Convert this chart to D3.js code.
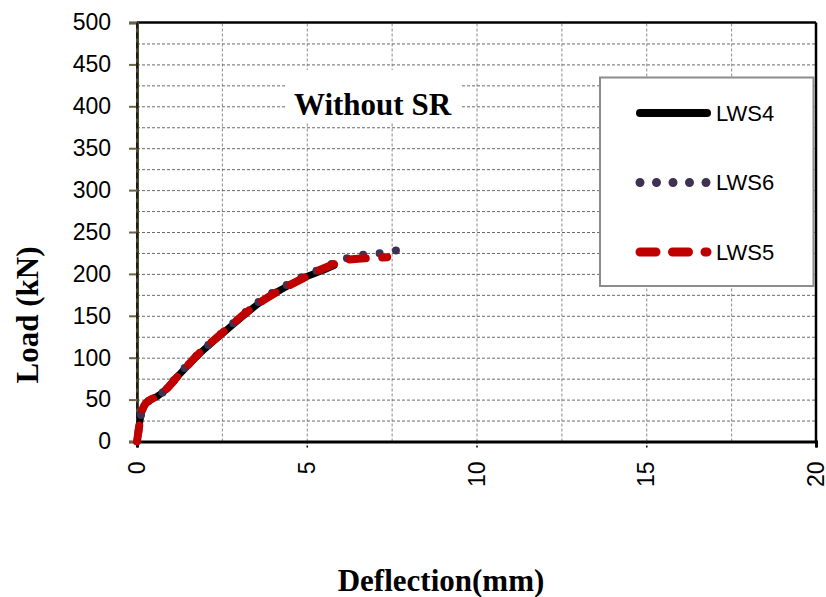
<!DOCTYPE html>
<html lang="en">
<head>
    <meta charset="UTF-8">
    <title>Load - Deflection, Without SR</title>
    <script src="https://d3js.org/d3.v7.min.js" charset="utf-8"></script>
    <style>
        body { margin: 0; background: white; }
        svg { display: block; background: white; }
    </style>
</head>
<body>
    <div id="chart"></div>
    <script>

    // series (deflection mm, load kN)
    var seriesNames = ['LWS4', 'LWS6', 'LWS5'];

    var lws4Defl = [0, 0.05, 0.1, 0.16, 0.25, 0.4, 0.6, 0.85, 1.25, 1.85, 2.55, 3.25, 3.7, 4.1, 4.9, 5.4, 5.8];
    var lws4Load = [0, 14, 28, 38, 45, 50, 54, 62, 80, 105, 130, 154, 168, 178, 195, 203, 210];

    var lws6Defl = [0, 0.05, 0.1, 0.16, 0.25, 0.4, 0.6, 0.85, 1.25, 1.85, 2.55, 3.25, 3.7, 4.1, 4.9, 5.35, 5.75, 6.2, 6.7, 7.2, 7.65];
    var lws6Load = [0, 14, 28, 38, 45, 50, 54, 62, 81, 106, 131, 156, 170, 180, 197, 205, 212, 219, 223, 225, 228];

    var lws5Defl = [0, 0.05, 0.1, 0.16, 0.25, 0.4, 0.6, 0.85, 1.25, 1.85, 2.55, 3.25, 3.7, 4.1, 4.9, 5.35, 5.7, 6.1, 6.5, 7.0, 7.37];
    var lws5Load = [0, 14, 28, 38, 45, 50, 54, 62, 80, 106, 131, 155, 168, 178, 195, 204, 210, 216, 218, 219, 220];

    var xTicks = [0, 5, 10, 15, 20];
    var yTicks = [0, 50, 100, 150, 200, 250, 300, 350, 400, 450, 500];

    var width = 826, height = 597;
    var plotLeft = 137, plotRight = 816, plotTop = 22.5, plotBottom = 441.5;

    var svg = d3.select('#chart').append('svg')
        .attr('width', width)
        .attr('height', height);

    var x = d3.scaleLinear().domain([0, 20]).range([plotLeft, plotRight]);
    var y = d3.scaleLinear().domain([0, 500]).range([plotBottom, plotTop]);

    //gridlines (dashed grey), every 2.5 mm and 25 kN
    svg.append('g')
        .attr('transform', 'translate(0,' + plotBottom + ')')
        .call(d3.axisBottom(x).tickValues(d3.range(2.5, 20, 2.5)).tickSize(-(plotBottom - plotTop)).tickFormat(''))
        .call(g => g.select('.domain').remove())
        .selectAll('line')
        .attr('stroke', '#8a8a8a')
        .attr('stroke-width', 1)
        .attr('stroke-dasharray', '3,2');

    svg.append('g')
        .attr('transform', 'translate(' + plotLeft + ',0)')
        .call(d3.axisLeft(y).tickValues(d3.range(25, 500, 25)).tickSize(-(plotRight - plotLeft)).tickFormat(''))
        .call(g => g.select('.domain').remove())
        .selectAll('line')
        .attr('stroke', '#6a6a6a')
        .attr('stroke-width', 1)
        .attr('stroke-dasharray', '3,2');

    // white box behind the title
    svg.append('rect')
        .attr('x', 285).attr('y', 70)
        .attr('width', 175).attr('height', 52)
        .attr('fill', 'white');

    svg.append('text')
        .attr('x', 372.5)
        .attr('y', 115)
        .attr('text-anchor', 'middle')
        .style('font-family', '"Liberation Serif", "Times New Roman", serif')
        .style('font-weight', 'bold')
        .style('font-size', '31px')
        .text('Without SR');

    // top and right frame
    svg.append('line')
        .attr('x1', plotLeft).attr('x2', plotRight).attr('y1', plotTop).attr('y2', plotTop)
        .attr('stroke', 'black').attr('stroke-width', 2.5);
    svg.append('line')
        .attr('x1', plotRight).attr('x2', plotRight).attr('y1', plotTop).attr('y2', plotBottom)
        .attr('stroke', 'black').attr('stroke-width', 2.5);

    // y axis
    var yAxis = svg.append('g')
        .attr('transform', 'translate(' + plotLeft + ',0)')
        .call(d3.axisLeft(y).tickValues(yTicks).tickSize(8).tickPadding(18));
    yAxis.select('.domain').attr('stroke', '#4d4631').attr('stroke-width', 3);
    yAxis.selectAll('.tick line').attr('stroke', '#6b6345').attr('stroke-width', 2);
    yAxis.selectAll('text')
        .style('font-family', '"Liberation Sans", Arial, sans-serif')
        .style('font-size', '23px')
        .attr('fill', 'black');
    svg.append('line')
        .attr('x1', plotLeft).attr('x2', plotLeft).attr('y1', plotTop).attr('y2', plotBottom)
        .attr('stroke', 'black').attr('stroke-width', 1.2)
        .attr('stroke-dasharray', '6,4');

    // x axis
    var xAxis = svg.append('g')
        .attr('transform', 'translate(0,' + plotBottom + ')')
        .call(d3.axisBottom(x).tickValues(xTicks).tickSize(6));
    xAxis.select('.domain').attr('stroke', 'black').attr('stroke-width', 3);
    xAxis.selectAll('.tick line').attr('stroke', 'black').attr('stroke-width', 1.5).attr('stroke-dasharray', '2,2');
    xAxis.selectAll('text')
        .attr('transform', 'rotate(-90)')
        .attr('x', -20)
        .attr('y', 0)
        .attr('dy', '0.33em')
        .attr('text-anchor', 'end')
        .style('font-family', '"Liberation Sans", Arial, sans-serif')
        .style('font-size', '23px')
        .attr('fill', 'black');

    // axis titles
    svg.append('text')
        .attr('x', 441)
        .attr('y', 591)
        .attr('text-anchor', 'middle')
        .style('font-family', '"Liberation Serif", "Times New Roman", serif')
        .style('font-weight', 'bold')
        .style('font-size', '31px')
        .text('Deflection(mm)');

    svg.append('text')
        .attr('transform', 'translate(38,315) rotate(-90)')
        .attr('text-anchor', 'middle')
        .style('font-family', '"Liberation Serif", "Times New Roman", serif')
        .style('font-weight', 'bold')
        .style('font-size', '31px')
        .text('Load (kN)');

    // series
    function toPoints(dx, dy) {
        return dx.map((d, i) => [d, dy[i]]);
    }

    var line = d3.line()
        .x(d => x(d[0]))
        .y(d => y(d[1]))
        .curve(d3.curveCatmullRom);

    var styles = {
        LWS4: {color: 'black', width: 7, dash: null},
        LWS6: {color: '#3f3151', width: 8, dash: '0,16.5'},
        LWS5: {color: '#c00000', width: 8, dash: '16,16.5'}
    };

    var seriesData = [
        {name: 'LWS4', points: toPoints(lws4Defl, lws4Load)},
        {name: 'LWS6', points: toPoints(lws6Defl, lws6Load)},
        {name: 'LWS5', points: toPoints(lws5Defl, lws5Load)}
    ];

    var paths = svg.selectAll('.series')
        .data(seriesData)
        .enter()
        .append('path')
        .attr('class', 'series')
        .attr('d', d => line(d.points))
        .attr('fill', 'none')
        .attr('stroke', d => styles[d.name].color)
        .attr('stroke-width', d => styles[d.name].width)
        .attr('stroke-linecap', 'round')
        .attr('stroke-linejoin', 'round')
        .attr('stroke-dasharray', d => styles[d.name].dash);

    // let the dotted series end on a dot (one px before the path end)
    paths.filter(d => d.name === 'LWS6')
        .attr('stroke-dashoffset', function() {
            return 1 - (this.getTotalLength() % 16.5);
        });

    // legend
    var legend = svg.append('g');
    legend.append('rect')
        .attr('x', 600).attr('y', 77.5)
        .attr('width', 213.5).attr('height', 208.5)
        .attr('fill', 'white')
        .attr('stroke', '#8c8c8c')
        .attr('stroke-width', 2);

    var legendY = d3.scalePoint().domain(seriesNames).range([113, 252]);

    seriesNames.forEach(function(name) {
        var s = styles[name];
        legend.append('line')
            .attr('x1', 640).attr('x2', 707)
            .attr('y1', legendY(name)).attr('y2', legendY(name))
            .attr('stroke', s.color)
            .attr('stroke-width', s.width + 1)
            .attr('stroke-linecap', 'round')
            .attr('stroke-dasharray', s.dash);
        legend.append('text')
            .attr('x', 716)
            .attr('y', legendY(name))
            .attr('dy', '0.35em')
            .style('font-family', '"Liberation Sans", Arial, sans-serif')
            .style('font-size', '22px')
            .text(name);
    });

    </script>
</body>
</html>
